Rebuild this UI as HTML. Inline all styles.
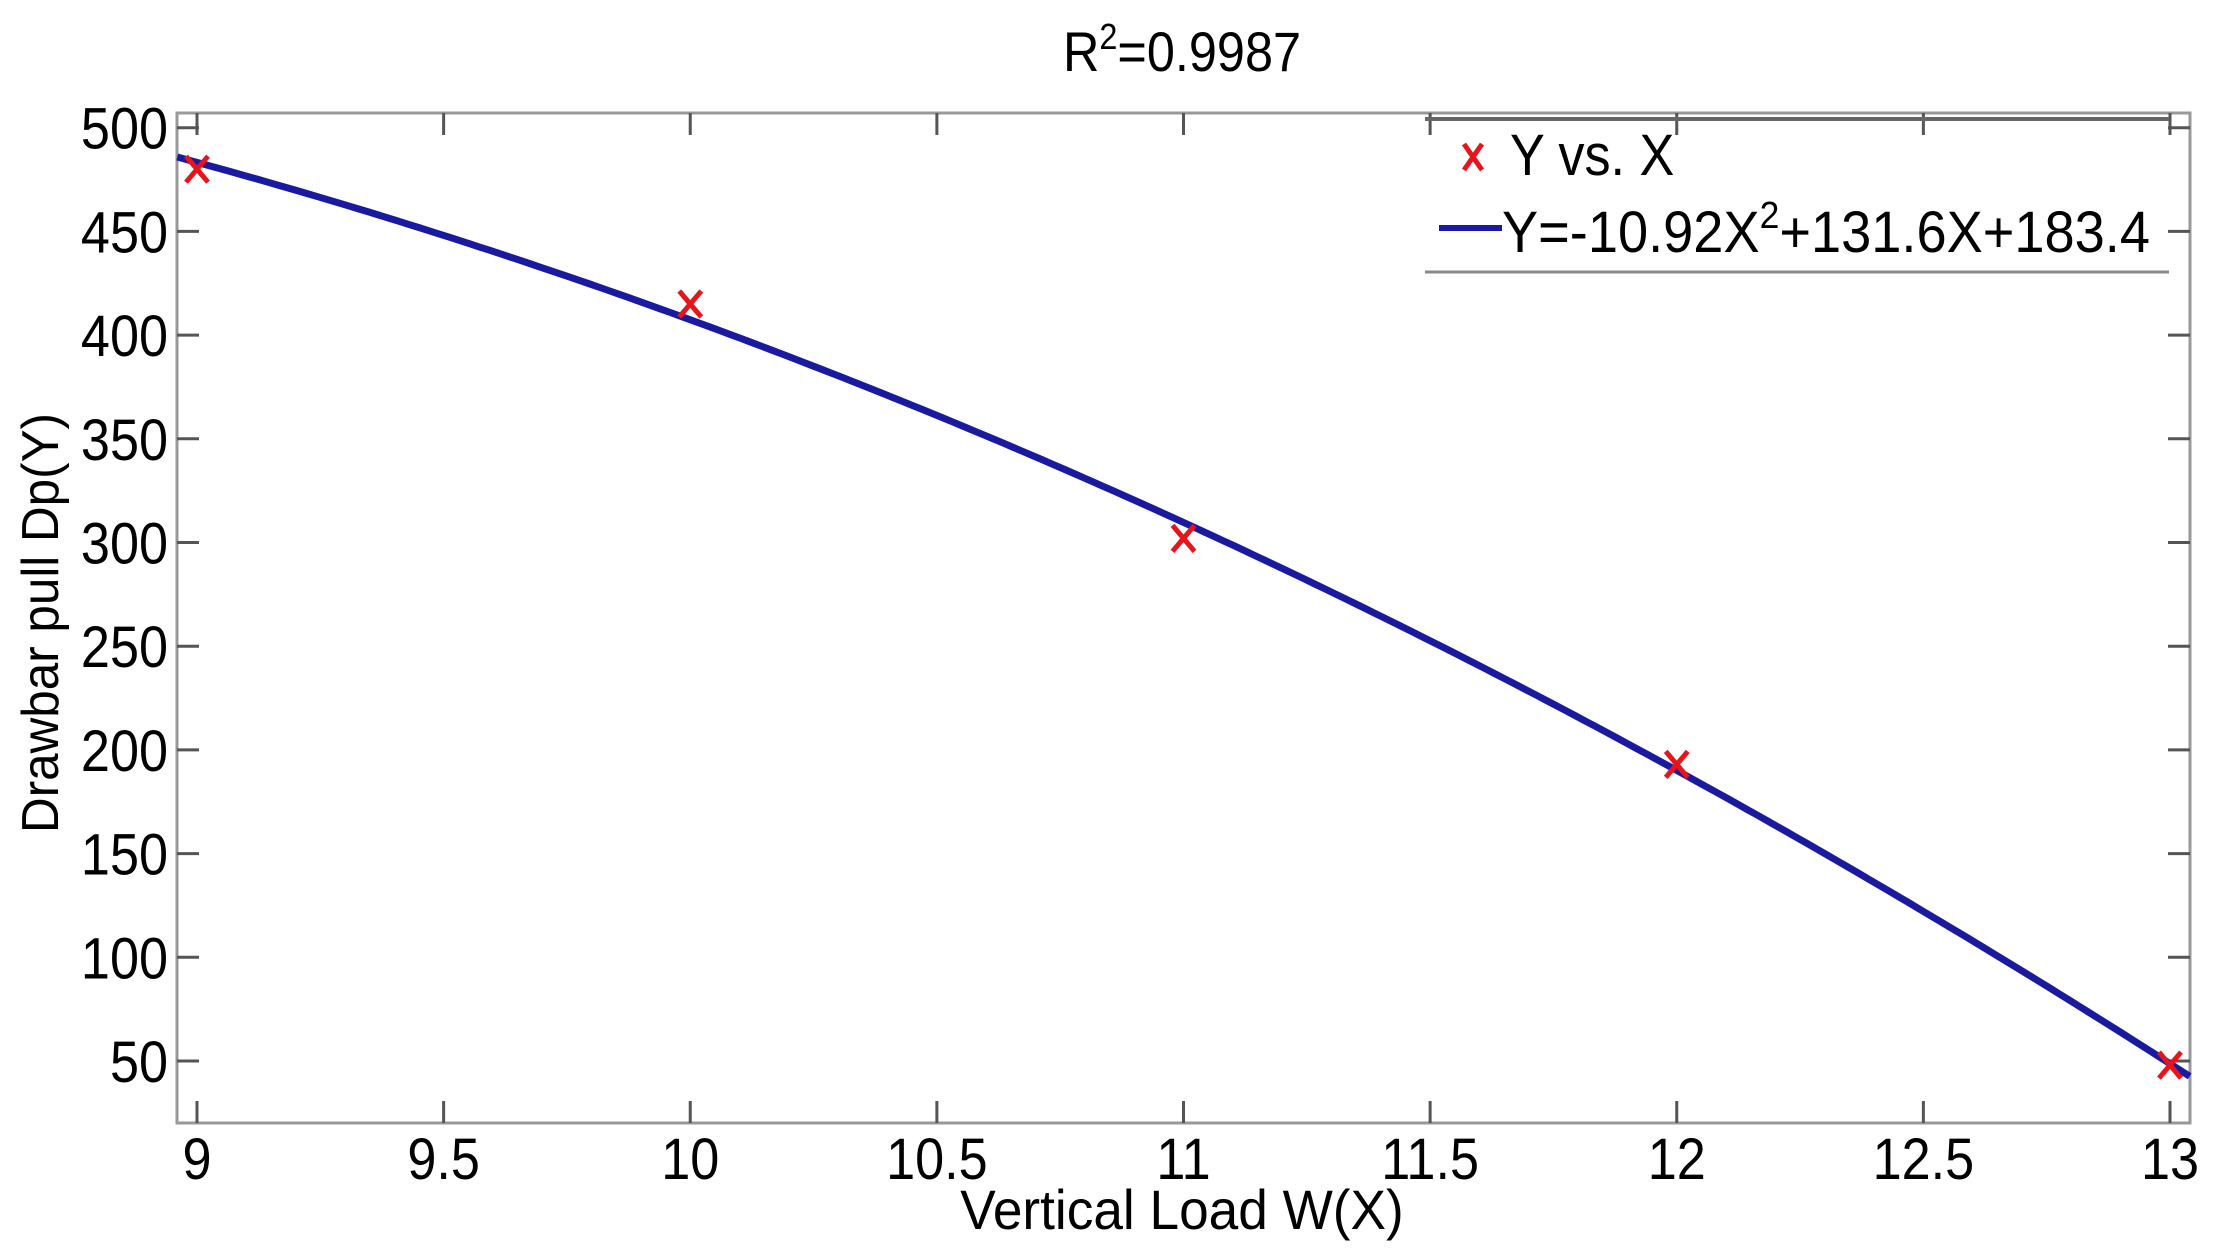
<!DOCTYPE html>
<html><head><meta charset="utf-8"><style>
html,body{margin:0;padding:0;background:#fff;}
svg{display:block;font-family:"Liberation Sans",Arial,sans-serif;}
</style></head><body>
<svg id="chart" width="2220" height="1259" viewBox="0 0 2220 1259">
<rect x="0" y="0" width="2220" height="1259" fill="#fff"/>
<g id="axes"></g>
<g id="series"></g>
<text transform="translate(1182,71) scale(0.9,1)" font-size="56" text-anchor="middle">R<tspan dy="-22" font-size="36">2</tspan><tspan dy="22">=0.9987</tspan></text>
<text transform="translate(1182,1229) scale(0.95,1)" font-size="56" text-anchor="middle">Vertical Load W(X)</text>
<text transform="translate(58,623) rotate(-90) scale(0.95,1)" font-size="52" text-anchor="middle">Drawbar pull Dp(Y)</text>
<g>
<line x1="1425" y1="119" x2="2169" y2="119" stroke="#666" stroke-width="4"/>
<line x1="1425" y1="272" x2="2169" y2="272" stroke="#888" stroke-width="3"/>
<g stroke="#e8141c" stroke-width="5">
<line x1="1464" y1="144" x2="1482" y2="170"/><line x1="1482" y1="144" x2="1464" y2="170"/></g>
<text transform="translate(1510,175) scale(0.9,1)" font-size="58">Y vs. X</text>
<line x1="1439" y1="228" x2="1502" y2="228" stroke="#1a1aa0" stroke-width="6"/>
<text x="1502" y="252" font-size="58" textLength="648" lengthAdjust="spacingAndGlyphs">Y=-10.92X<tspan dy="-24" font-size="38">2</tspan><tspan dy="24">+131.6X+183.4</tspan></text>
</g>
</svg>
<script>
const xTicks=[9,9.5,10,10.5,11,11.5,12,12.5,13];
const xTickLabels=["9","9.5","10","10.5","11","11.5","12","12.5","13"];
const yTicks=[50,100,150,200,250,300,350,400,450,500];
const yTickLabels=["50","100","150","200","250","300","350","400","450","500"];
const dataX=[9,10,11,12,13];
const dataY=[480,415,302,193,48];
const fitCoeffs=[-10.92,131.6,183.4];
const xDomain=[8.96,13.04];

const L=177,R=2190,T=113,B=1123;
function sx(v){return 197+(v-9)*493.25;}
function sy(v){return 127.7+(500-v)*(1061-127.7)/450;}
const NS="http://www.w3.org/2000/svg";
function mk(tag,attrs,parent){const e=document.createElementNS(NS,tag);for(const k in attrs)e.setAttribute(k,attrs[k]);parent.appendChild(e);return e;}
const axes=document.getElementById('axes');
const series=document.getElementById('series');
const frame=mk('rect',{x:L,y:T,width:R-L,height:B-T,fill:'none',stroke:'#999','stroke-width':3},axes);


xTicks.forEach((v,i)=>{
  const x=sx(v);
  const t1=mk('line',{x1:x,y1:B,x2:x,y2:B-22,stroke:'#555','stroke-width':3},axes);
  
  
  const t2=mk('line',{x1:x,y1:T,x2:x,y2:T+22,stroke:'#555','stroke-width':3},axes);
  
  
  const lb=mk('text',{transform:'translate('+x+',1179) scale(0.9,1)','font-size':58,'text-anchor':'middle'},axes);
  lb.textContent=xTickLabels[i];
  
  
});
yTicks.forEach((v,i)=>{
  const y=sy(v);
  const t1=mk('line',{x1:L,y1:y,x2:L+22,y2:y,stroke:'#555','stroke-width':3},axes);
  
  
  const t2=mk('line',{x1:R,y1:y,x2:R-22,y2:y,stroke:'#555','stroke-width':3},axes);
  
  
  const lb=mk('text',{transform:'translate(168,'+(y+21)+') scale(0.9,1)','font-size':58,'text-anchor':'end'},axes);
  lb.textContent=yTickLabels[i];
  
  
});
let d='';
for(let k=0;k<=200;k++){
  const xv=xDomain[0]+(xDomain[1]-xDomain[0])*k/200;
  const yv=fitCoeffs[0]*xv*xv+fitCoeffs[1]*xv+fitCoeffs[2];
  d+=(k?'L':'M')+sx(xv).toFixed(1)+','+sy(yv).toFixed(1);
}
const fit=mk('path',{d:d,fill:'none',stroke:'#1a1aa0','stroke-width':7},series);


dataX.forEach((xv,i)=>{
  const cx=sx(xv),cy=sy(dataY[i]);
  const g=mk('g',{stroke:'#e8141c','stroke-width':5},series);
  
  
  mk('line',{x1:cx-11,y1:cy-13,x2:cx+11,y2:cy+13},g);
  mk('line',{x1:cx+11,y1:cy-13,x2:cx-11,y2:cy+13},g);
});
</script>
</body></html>
